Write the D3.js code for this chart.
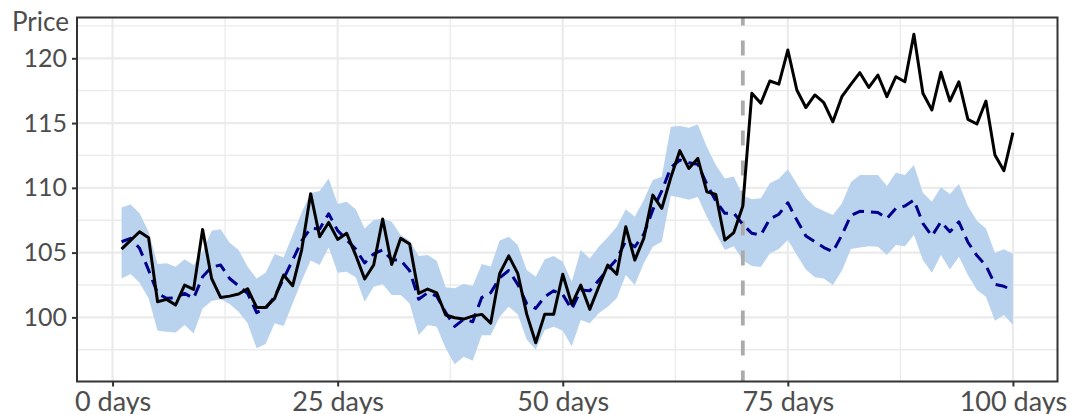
<!DOCTYPE html>
<html>
<head>
<meta charset="utf-8">
<script src="https://cdn.jsdelivr.net/npm/d3@7"></script>
<style>
  html, body { margin: 0; padding: 0; background: #ffffff; }
  svg { display: block; }
</style>
</head>
<body>
<svg id="chart" width="1079" height="414"></svg>
<script>
// Day index of every observation
const days = d3.range(1, 101);

// Observed price
const actual = [
  105.27, 105.95, 106.61, 106.15, 101.21, 101.39, 100.95, 102.49, 102.16, 106.79,
  103.00, 101.54, 101.64, 101.80, 102.21, 100.77, 100.77, 101.47, 103.27, 102.44,
  105.20, 109.55, 106.22, 107.33, 106.02, 106.49, 104.81, 102.96, 104.04, 107.59,
  104.09, 106.10, 105.66, 101.85, 102.19, 101.90, 100.18, 99.97, 99.87, 100.10,
  100.23, 99.56, 103.40, 104.75, 103.40, 100.25, 98.04, 100.25, 100.25, 103.33,
  101.00, 102.49, 100.62, 102.37, 104.04, 103.34, 107.00, 104.42, 106.10, 109.44,
  108.42, 110.80, 112.87, 111.50, 112.27, 109.70, 109.50, 105.97, 106.55, 108.60,
  117.30, 116.53, 118.25, 118.00, 120.64, 117.55, 116.20, 117.17, 116.57, 115.10,
  117.04, 117.99, 118.89, 117.75, 118.71, 117.04, 118.58, 118.19, 121.85, 117.30,
  116.01, 118.92, 116.70, 118.19, 115.29, 114.93, 116.70, 112.53, 111.32, 114.26
];

// Model estimate
const forecast = [
  105.84, 106.10, 105.33, 103.65, 101.85, 101.47, 101.52, 101.85, 101.47, 103.14,
  103.88, 104.04, 103.00, 102.43, 101.85, 100.37, 100.69, 101.60, 103.00, 104.42,
  105.90, 106.87, 106.83, 108.00, 106.70, 106.00, 105.27, 104.20, 104.90, 105.20,
  104.45, 104.40, 103.60, 101.40, 101.90, 101.65, 100.37, 99.30, 99.85, 99.66,
  101.53, 101.90, 103.05, 103.62, 102.55, 101.07, 100.69, 101.60, 102.05, 101.76,
  100.62, 102.11, 102.05, 102.87, 103.70, 104.50, 105.90, 105.45, 106.42, 108.30,
  109.76, 111.56, 112.15, 111.93, 111.82, 110.28, 108.99, 108.03, 108.05, 107.17,
  106.49, 106.36, 107.60, 107.96, 108.85, 107.51, 106.29, 105.84, 105.39, 105.07,
  106.35, 107.87, 108.19, 108.16, 108.09, 107.64, 108.42, 108.60, 109.06, 107.26,
  106.28, 107.38, 106.61, 107.38, 105.80, 104.77, 104.00, 102.55, 102.40, 102.08
];

// Upper edge of the estimate band
const upper = [
  108.49, 108.72, 108.03, 106.61, 104.12, 104.17, 103.91, 104.48, 104.04, 105.07,
  106.69, 106.80, 105.76, 105.20, 103.91, 103.00, 103.44, 104.89, 104.63, 106.36,
  108.10, 109.60, 109.75, 110.73, 108.75, 108.93, 108.34, 106.87, 107.51, 107.64,
  107.38, 106.36, 105.92, 104.73, 104.81, 104.37, 102.32, 102.24, 102.57, 102.42,
  104.12, 103.93, 105.93, 106.22, 105.58, 103.65, 103.14, 104.48, 104.73, 104.30,
  102.75, 105.20, 104.55, 105.45, 106.18, 107.00, 108.34, 107.77, 109.06, 110.60,
  110.86, 114.72, 114.77, 114.63, 114.89, 113.18, 111.76, 110.73, 110.88, 109.40,
  109.11, 109.19, 110.35, 110.70, 111.43, 110.32, 109.19, 108.55, 108.22, 107.90,
  108.80, 110.43, 110.99, 110.99, 110.99, 110.14, 111.17, 110.99, 111.76, 109.62,
  108.93, 110.04, 109.52, 110.29, 108.60, 107.46, 106.87, 104.99, 105.25, 104.89
];

// Lower edge of the estimate band
const lower = [
  103.00, 103.34, 102.67, 101.47, 98.97, 98.89, 98.84, 99.41, 98.76, 100.69,
  101.26, 101.39, 101.03, 100.43, 99.54, 97.61, 97.94, 99.54, 99.33, 101.08,
  102.80, 104.40, 104.04, 105.40, 103.44, 103.52, 103.09, 101.20, 102.37, 102.57,
  101.72, 101.72, 101.08, 98.63, 99.41, 99.28, 97.61, 96.39, 96.96, 96.65,
  98.63, 98.63, 100.05, 100.82, 100.25, 98.30, 97.53, 99.02, 99.28, 98.97,
  97.78, 99.79, 99.54, 100.31, 100.82, 101.47, 103.27, 102.49, 104.17, 105.45,
  105.84, 109.38, 109.25, 109.08, 109.29, 107.77, 106.49, 105.20, 105.50, 104.40,
  103.97, 103.88, 104.94, 105.27, 105.97, 104.81, 103.70, 103.10, 103.00, 102.50,
  103.60, 105.27, 105.40, 105.50, 105.45, 104.81, 105.58, 105.50, 106.36, 104.42,
  103.44, 104.81, 103.70, 104.68, 103.27, 102.11, 101.59, 99.74, 100.18, 99.41
];

// Day at which the estimate window ends
const cutoffDay = [70];

// Axis ticks
const xTicks = [0, 25, 50, 75, 100];
const xTickLabels = ["0 days", "25 days", "50 days", "75 days", "100 days"];
const xMinor = [12.5, 37.5, 62.5, 87.5];
const yTicks = [100, 105, 110, 115, 120];
const yMinor = [97.5, 102.5, 107.5, 112.5, 117.5, 122.5];
const yTitle = ["Price"];

const svg = d3.select("#chart");
const panel = { left: 77, right: 1057.5, top: 17.5, bottom: 381.5 };

const x = d3.scaleLinear().domain([-3.95, 104.95]).range([panel.left, panel.right]);
const y = d3.scaleLinear().domain([95.05, 123.15]).range([panel.bottom, panel.top]);

const gridColor = "#ebebeb";
const textColor = "#4d4d4d";
const font = "Lato, 'Open Sans', sans-serif";

// Grid: minor then major
const grid = svg.append("g");
grid.selectAll(".ymin").data(yMinor).join("line")
  .attr("x1", panel.left).attr("x2", panel.right)
  .attr("y1", d => y(d)).attr("y2", d => y(d))
  .attr("stroke", gridColor).attr("stroke-width", 1.3);
grid.selectAll(".xmin").data(xMinor).join("line")
  .attr("y1", panel.top).attr("y2", panel.bottom)
  .attr("x1", d => x(d)).attr("x2", d => x(d))
  .attr("stroke", gridColor).attr("stroke-width", 1.3);
grid.selectAll(".ymaj").data(yTicks).join("line")
  .attr("x1", panel.left).attr("x2", panel.right)
  .attr("y1", d => y(d)).attr("y2", d => y(d))
  .attr("stroke", gridColor).attr("stroke-width", 2.2);
grid.selectAll(".xmaj").data(xTicks).join("line")
  .attr("y1", panel.top).attr("y2", panel.bottom)
  .attr("x1", d => x(d)).attr("x2", d => x(d))
  .attr("stroke", gridColor).attr("stroke-width", 2.2);

const rows = days.map((d, i) => ({
  day: d, actual: actual[i], forecast: forecast[i], upper: upper[i], lower: lower[i]
}));

// Estimate band
svg.append("path")
  .datum(rows)
  .attr("fill", "#b9d3ee")
  .attr("d", d3.area().x(d => x(d.day)).y0(d => y(d.lower)).y1(d => y(d.upper)));

// Cutoff marker
svg.append("line")
  .attr("x1", x(cutoffDay[0])).attr("x2", x(cutoffDay[0]))
  .attr("y1", panel.top).attr("y2", panel.bottom)
  .attr("stroke", "#ababab").attr("stroke-width", 3.8)
  .attr("stroke-dasharray", "15,15").attr("stroke-dashoffset", 7);

// Estimate line
svg.append("path")
  .datum(rows)
  .attr("fill", "none")
  .attr("stroke", "#00008b").attr("stroke-width", 3)
  .attr("stroke-dasharray", "12,7")
  .attr("stroke-linejoin", "round")
  .attr("d", d3.line().x(d => x(d.day)).y(d => y(d.forecast)));

// Observed line
svg.append("path")
  .datum(rows)
  .attr("fill", "none")
  .attr("stroke", "#000000").attr("stroke-width", 3)
  .attr("stroke-linejoin", "round")
  .attr("d", d3.line().x(d => x(d.day)).y(d => y(d.actual)));

// Panel border
svg.append("rect")
  .attr("x", panel.left).attr("y", panel.top)
  .attr("width", panel.right - panel.left).attr("height", panel.bottom - panel.top)
  .attr("fill", "none").attr("stroke", "#333333").attr("stroke-width", 2);

// Axes
const xAxis = svg.append("g")
  .attr("transform", `translate(0,${panel.bottom})`)
  .call(d3.axisBottom(x).tickValues(xTicks).tickSize(5).tickPadding(3)
    .tickFormat((d, i) => xTickLabels[i]));
xAxis.select(".domain").remove();
xAxis.selectAll(".tick line").attr("stroke", "#333333").attr("stroke-width", 2);
xAxis.selectAll("text")
  .attr("fill", textColor).attr("font-family", font).attr("font-size", 27)
  .attr("dy", "0.8em");

const yAxis = svg.append("g")
  .attr("transform", `translate(${panel.left},0)`)
  .call(d3.axisLeft(y).tickValues(yTicks).tickSize(5).tickPadding(5));
yAxis.select(".domain").remove();
yAxis.selectAll(".tick line").attr("stroke", "#333333").attr("stroke-width", 2);
yAxis.selectAll("text")
  .attr("fill", textColor).attr("font-family", font).attr("font-size", 25);

// Axis title above the value labels
svg.append("text")
  .attr("x", 12).attr("y", 31)
  .attr("fill", textColor).attr("font-family", font).attr("font-size", 26)
  .text(yTitle[0]);
</script>
</body>
</html>
